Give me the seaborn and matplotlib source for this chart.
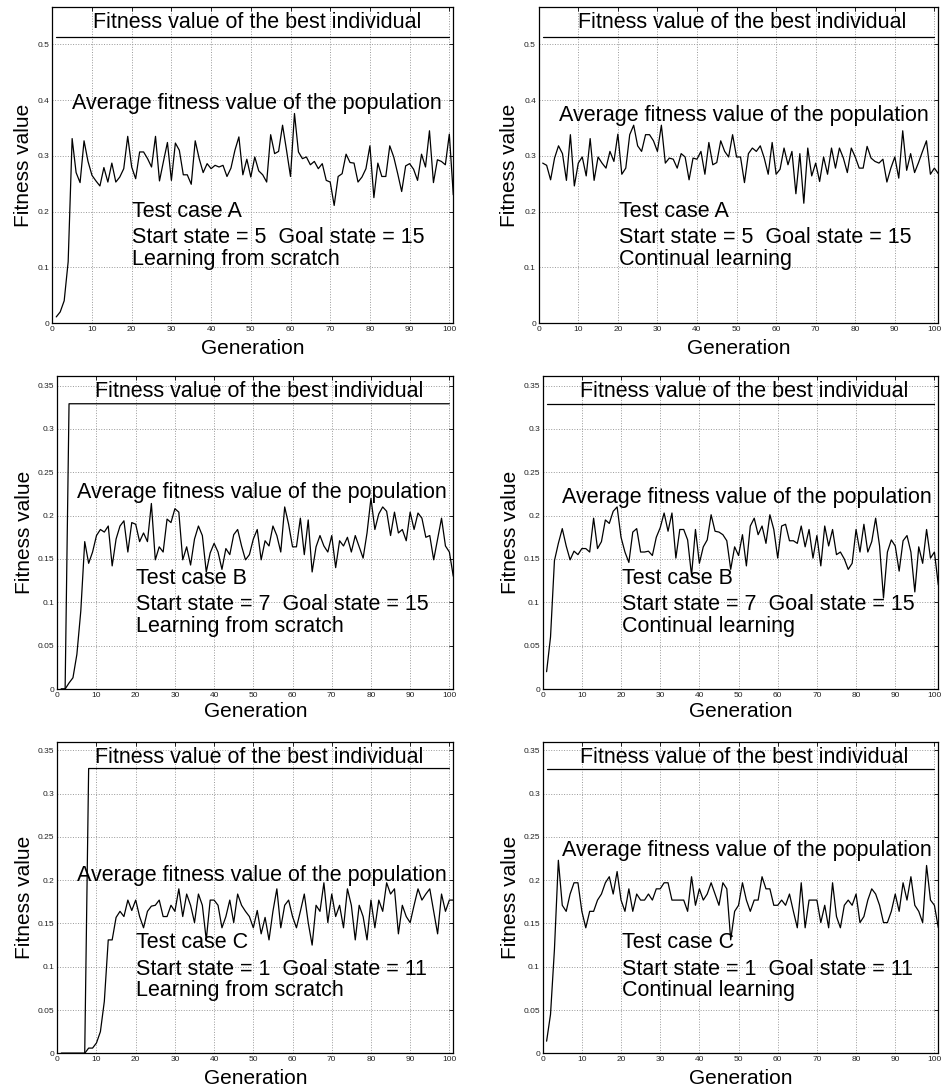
import numpy as np
import pandas as pd
import matplotlib
matplotlib.use("Agg")
import matplotlib.pyplot as plt
import seaborn as sns

# Average fitness per generation, generations 1..101
avg_a_scratch = [0.011, 0.02, 0.04, 0.11, 0.331, 0.27, 0.252, 0.327, 0.29, 0.265,
                 0.255, 0.246, 0.279, 0.253, 0.287, 0.253, 0.262, 0.277, 0.335, 0.28,
                 0.259, 0.307, 0.307, 0.295, 0.28, 0.335, 0.255, 0.29, 0.324, 0.256,
                 0.323, 0.31, 0.266, 0.266, 0.249, 0.327, 0.295, 0.27, 0.286, 0.277,
                 0.283, 0.28, 0.283, 0.263, 0.278, 0.31, 0.334, 0.266, 0.294, 0.262,
                 0.298, 0.273, 0.266, 0.253, 0.338, 0.304, 0.308, 0.355, 0.31, 0.263,
                 0.376, 0.307, 0.295, 0.298, 0.284, 0.29, 0.277, 0.286, 0.256, 0.253,
                 0.211, 0.263, 0.268, 0.303, 0.288, 0.287, 0.253, 0.262, 0.277, 0.318,
                 0.225, 0.287, 0.263, 0.263, 0.318, 0.298, 0.268, 0.236, 0.282, 0.286,
                 0.276, 0.256, 0.303, 0.28, 0.345, 0.252, 0.293, 0.29, 0.284, 0.339,
                 0.23]
avg_a_continual = [0.287, 0.283, 0.257, 0.296, 0.318, 0.304, 0.256, 0.338, 0.246, 0.287,
                   0.298, 0.264, 0.331, 0.256, 0.298, 0.287, 0.278, 0.308, 0.29, 0.339,
                   0.267, 0.278, 0.338, 0.355, 0.318, 0.308, 0.338, 0.338, 0.327, 0.308,
                   0.355, 0.287, 0.296, 0.294, 0.278, 0.304, 0.298, 0.257, 0.296, 0.294,
                   0.308, 0.267, 0.324, 0.284, 0.288, 0.327, 0.308, 0.298, 0.338, 0.298,
                   0.298, 0.252, 0.304, 0.314, 0.308, 0.318, 0.296, 0.267, 0.324, 0.267,
                   0.276, 0.314, 0.284, 0.308, 0.232, 0.304, 0.215, 0.314, 0.264, 0.287,
                   0.254, 0.298, 0.267, 0.314, 0.278, 0.314, 0.296, 0.27, 0.314, 0.298,
                   0.278, 0.278, 0.317, 0.296, 0.29, 0.287, 0.294, 0.253, 0.278, 0.298,
                   0.26, 0.345, 0.274, 0.304, 0.27, 0.288, 0.308, 0.327, 0.267, 0.278,
                   0.268]
avg_b_scratch = [0.0, 0.0, 0.007, 0.013, 0.04, 0.09, 0.17, 0.145, 0.158, 0.177,
                 0.184, 0.181, 0.188, 0.142, 0.173, 0.188, 0.194, 0.158, 0.192, 0.19,
                 0.17, 0.18, 0.17, 0.214, 0.149, 0.164, 0.158, 0.196, 0.192, 0.208,
                 0.204, 0.149, 0.164, 0.143, 0.173, 0.188, 0.177, 0.135, 0.157, 0.168,
                 0.158, 0.138, 0.162, 0.155, 0.178, 0.184, 0.165, 0.149, 0.155, 0.173,
                 0.184, 0.149, 0.171, 0.165, 0.188, 0.177, 0.158, 0.21, 0.19, 0.164,
                 0.164, 0.197, 0.155, 0.195, 0.135, 0.164, 0.177, 0.165, 0.158, 0.177,
                 0.14, 0.171, 0.165, 0.175, 0.158, 0.177, 0.164, 0.151, 0.18, 0.22,
                 0.184, 0.202, 0.21, 0.205, 0.177, 0.204, 0.18, 0.184, 0.171, 0.204,
                 0.184, 0.203, 0.197, 0.175, 0.177, 0.149, 0.173, 0.197, 0.165, 0.158,
                 0.13]
avg_b_continual = [0.02, 0.06, 0.148, 0.168, 0.185, 0.165, 0.149, 0.159, 0.155, 0.162,
                   0.162, 0.158, 0.197, 0.162, 0.17, 0.195, 0.191, 0.205, 0.21, 0.175,
                   0.158, 0.146, 0.181, 0.185, 0.158, 0.158, 0.159, 0.154, 0.175, 0.186,
                   0.203, 0.182, 0.203, 0.151, 0.184, 0.184, 0.172, 0.131, 0.184, 0.145,
                   0.164, 0.172, 0.201, 0.182, 0.181, 0.178, 0.171, 0.138, 0.164, 0.154,
                   0.178, 0.142, 0.188, 0.197, 0.178, 0.188, 0.168, 0.201, 0.184, 0.151,
                   0.188, 0.19, 0.171, 0.171, 0.168, 0.188, 0.164, 0.184, 0.151, 0.177,
                   0.142, 0.188, 0.165, 0.184, 0.155, 0.158, 0.15, 0.138, 0.145, 0.184,
                   0.158, 0.19, 0.158, 0.17, 0.197, 0.165, 0.105, 0.158, 0.172, 0.165,
                   0.136, 0.171, 0.177, 0.158, 0.112, 0.164, 0.145, 0.184, 0.151, 0.158,
                   0.12]
avg_c_scratch = [0.0, 0.0, 0.0, 0.0, 0.0, 0.0, 0.0, 0.006, 0.006, 0.012,
                 0.025, 0.06, 0.131, 0.131, 0.157, 0.164, 0.158, 0.177, 0.165, 0.177,
                 0.158, 0.145, 0.164, 0.17, 0.171, 0.177, 0.158, 0.158, 0.171, 0.164,
                 0.19, 0.158, 0.184, 0.171, 0.151, 0.184, 0.171, 0.131, 0.177, 0.177,
                 0.171, 0.145, 0.158, 0.177, 0.151, 0.184, 0.171, 0.164, 0.158, 0.145,
                 0.165, 0.138, 0.157, 0.131, 0.164, 0.19, 0.145, 0.171, 0.177, 0.158,
                 0.145, 0.164, 0.184, 0.151, 0.125, 0.171, 0.164, 0.197, 0.151, 0.184,
                 0.158, 0.171, 0.145, 0.19, 0.171, 0.131, 0.171, 0.158, 0.131, 0.177,
                 0.145, 0.177, 0.164, 0.197, 0.184, 0.19, 0.138, 0.171, 0.158, 0.151,
                 0.171, 0.19, 0.177, 0.184, 0.19, 0.164, 0.138, 0.184, 0.164, 0.177,
                 0.177]
avg_c_continual = [0.014, 0.045, 0.12, 0.223, 0.171, 0.164, 0.184, 0.197, 0.197, 0.164,
                   0.145, 0.164, 0.164, 0.177, 0.184, 0.197, 0.204, 0.184, 0.21, 0.177,
                   0.164, 0.19, 0.164, 0.184, 0.177, 0.177, 0.184, 0.177, 0.19, 0.19,
                   0.197, 0.197, 0.177, 0.177, 0.177, 0.177, 0.164, 0.204, 0.171, 0.19,
                   0.177, 0.184, 0.197, 0.184, 0.171, 0.197, 0.19, 0.131, 0.164, 0.171,
                   0.197, 0.177, 0.164, 0.177, 0.177, 0.204, 0.19, 0.19, 0.171, 0.171,
                   0.177, 0.171, 0.184, 0.164, 0.145, 0.197, 0.145, 0.177, 0.177, 0.177,
                   0.151, 0.171, 0.145, 0.197, 0.158, 0.145, 0.171, 0.177, 0.171, 0.184,
                   0.151, 0.158, 0.177, 0.19, 0.184, 0.171, 0.151, 0.151, 0.164, 0.184,
                   0.164, 0.197, 0.177, 0.204, 0.171, 0.164, 0.151, 0.217, 0.177, 0.171,
                   0.145]

# Best individual fitness, generations 1..100
best_a_scratch = [0.514] * 100
best_a_continual = [0.514] * 100
best_b_scratch = [0.0, 0.0] + [0.329] * 98
best_b_continual = [0.329] * 100
best_c_scratch = [0.0] * 7 + [0.329] * 93
best_c_continual = [0.329] * 100

case_lines = [
    ("Test case A", "Start state = 5  Goal state = 15"),
    ("Test case B", "Start state = 7  Goal state = 15"),
    ("Test case C", "Start state = 1  Goal state = 11"),
]
modes = ["Learning from scratch", "Continual learning"]

panels = [
    # avg, best, case idx, mode idx, axes rect, ymax, yticks, avg text y, ylabel x, xlabel y
    (avg_a_scratch, best_a_scratch, 0, 0, [0.0555, 0.7031, 0.4257, 0.2904], 0.567,
     [0, 0.1, 0.2, 0.3, 0.4, 0.5], 0.696, -0.047, -0.049),
    (avg_a_continual, best_a_continual, 0, 1, [0.5719, 0.7031, 0.4242, 0.2904], 0.567,
     [0, 0.1, 0.2, 0.3, 0.4, 0.5], 0.658, -0.049, -0.049),
    (avg_b_scratch, best_b_scratch, 1, 0, [0.0608, 0.3667, 0.4204, 0.2877], 0.361,
     [0, 0.05, 0.1, 0.15, 0.2, 0.25, 0.3, 0.35], 0.628, -0.060, -0.041),
    (avg_b_continual, best_b_continual, 1, 1, [0.5761, 0.3667, 0.4200, 0.2877], 0.361,
     [0, 0.05, 0.1, 0.15, 0.2, 0.25, 0.3, 0.35], 0.612, -0.058, -0.041),
    (avg_c_scratch, best_c_scratch, 2, 0, [0.0608, 0.0319, 0.4204, 0.2864], 0.36,
     [0, 0.05, 0.1, 0.15, 0.2, 0.25, 0.3, 0.35], 0.572, -0.060, -0.049),
    (avg_c_continual, best_c_continual, 2, 1, [0.5761, 0.0319, 0.4200, 0.2864], 0.36,
     [0, 0.05, 0.1, 0.15, 0.2, 0.25, 0.3, 0.35], 0.65, -0.058, -0.049),
]

sns.set_style("white")
plt.rcParams['font.family'] = ['Liberation Sans', 'DejaVu Sans']
plt.rcParams['text.color'] = 'black'
plt.rcParams['axes.labelcolor'] = 'black'

fig = plt.figure(figsize=(9.42, 10.88), dpi=100)
big = 15.5

for avg, best, ci, mi, rect, ymax, yticks, avg_y, ylab_x, xlab_y in panels:
    ax = fig.add_axes(rect)
    df_avg = pd.DataFrame({'Generation': np.arange(1, len(avg) + 1), 'Fitness': avg})
    df_best = pd.DataFrame({'Generation': np.arange(1, len(best) + 1), 'Fitness': best})
    sns.lineplot(data=df_avg, x='Generation', y='Fitness', ax=ax, color='black',
                 linewidth=0.9, estimator=None)
    sns.lineplot(data=df_best, x='Generation', y='Fitness', ax=ax, color='black',
                 linewidth=0.9, estimator=None)

    ax.set_xlim(0, 101)
    ax.set_ylim(0, ymax)
    ax.set_xticks(range(0, 101, 10))
    ax.set_yticks(yticks)
    ax.set_yticklabels(['%g' % t for t in yticks])
    ax.tick_params(direction='in', top=True, right=True, length=3, width=0.6,
                   labelsize=6, pad=2, colors='black', labelcolor='#222222')
    ax.grid(True, linestyle=':', color='#999999', linewidth=0.7)
    for s in ax.spines.values():
        s.set_color('black')
        s.set_linewidth(0.9)

    ax.set_xlabel('Generation', fontsize=15)
    ax.set_ylabel('Fitness value', fontsize=15)
    ax.xaxis.set_label_coords(0.5, xlab_y)
    ax.yaxis.set_label_coords(ylab_x, 0.5)

    ax.text(0.51, 0.95, 'Fitness value of the best individual', transform=ax.transAxes,
            ha='center', va='center', fontsize=big)
    ax.text(0.05, avg_y, 'Average fitness value of the population', transform=ax.transAxes,
            ha='left', va='center', fontsize=big)
    ax.text(0.2, 0.354, case_lines[ci][0], transform=ax.transAxes,
            ha='left', va='center', fontsize=big)
    ax.text(0.2, 0.27, case_lines[ci][1], transform=ax.transAxes,
            ha='left', va='center', fontsize=big)
    ax.text(0.2, 0.2, modes[mi], transform=ax.transAxes,
            ha='left', va='center', fontsize=big)

fig.savefig('out.png', dpi=100)
